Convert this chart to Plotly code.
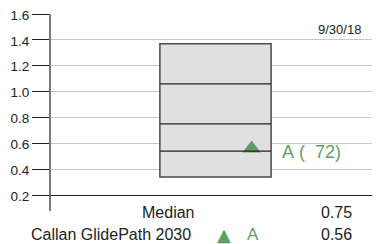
import plotly.graph_objects as go

# ---- data ----
percentile_labels = ["10th", "25th", "Median", "75th", "90th"]
percentile_values = [1.37, 1.06, 0.75, 0.54, 0.34]
series_names = ["Callan GlidePath 2030"]
series_letters = ["A"]
series_values = [0.56]
series_ranks = [72]
date_label = "9/30/18"
y_ticks = [0.2, 0.4, 0.6, 0.8, 1.0, 1.2, 1.4, 1.6]

# ---- style ----
GREEN = "#5f9e62"
FONT = "Liberation Sans, Arial, sans-serif"
box_center = 0.5015
box_width = 0.337
marker_x = 0.611
PAGE_OFFSET = 8  # default body margin of the html page

fig = go.Figure()

top, bottom = max(percentile_values), min(percentile_values)
fig.add_trace(go.Bar(
    x=[box_center], y=[top - bottom], base=[bottom], width=[box_width],
    marker=dict(color="#e0e0e0", line=dict(color="#4a4a4a", width=1.5)),
    hoverinfo="skip", showlegend=False,
))

for v in percentile_values[1:-1]:
    fig.add_shape(type="line", xref="x", yref="y",
                  x0=box_center - box_width / 2, x1=box_center + box_width / 2,
                  y0=v, y1=v, line=dict(color="#222222", width=1.3))

fig.add_trace(go.Scatter(
    x=[marker_x] * len(series_values), y=series_values, mode="markers",
    marker=dict(symbol="triangle-up", size=16, color=GREEN),
    showlegend=False, hoverinfo="skip", cliponaxis=False,
))

for letter, val, rank in zip(series_letters, series_values, series_ranks):
    fig.add_annotation(x=0.697, xref="paper", y=val, yref="y", yshift=-4,
                       yanchor="middle",
                       text=f"{letter} ( {rank:3d})".replace(" ", "&nbsp;"),
                       showarrow=False, xanchor="left",
                       font=dict(family=FONT, size=18, color=GREEN))

# extended vertical axis line
fig.add_shape(type="line", xref="paper", yref="paper", x0=0, x1=0,
              y0=-0.088, y1=1, line=dict(color="#222222", width=1.2))

fig.add_annotation(x=0.948, xref="paper", y=0.917, yref="paper", text=date_label,
                   showarrow=False, xanchor="right", yanchor="middle",
                   font=dict(family=FONT, size=13, color="#222222"))

median_val = percentile_values[percentile_labels.index("Median")]
rows_y = [-0.094, -0.2155]
fig.add_annotation(x=0.442, xref="paper", y=rows_y[0], yref="paper", text="Median",
                   showarrow=False, xanchor="right", yanchor="middle",
                   font=dict(family=FONT, size=16, color="#222222"))
fig.add_annotation(x=0.815, xref="paper", y=rows_y[0], yref="paper",
                   text=f"{median_val:.2f}", showarrow=False, xanchor="left",
                   yanchor="middle",
                   font=dict(family=FONT, size=16, color="#222222"))
for i, (name, letter, val) in enumerate(zip(series_names, series_letters, series_values)):
    yy = rows_y[1 + i]
    fig.add_annotation(x=0.433, xref="paper", y=yy, yref="paper", text=name,
                       showarrow=False, xanchor="right", yanchor="middle",
                       font=dict(family=FONT, size=16, color="#222222"))
    fig.add_annotation(x=0.527, xref="paper", y=yy, yref="paper", text="▲",
                       showarrow=False, xanchor="center", yanchor="middle",
                       font=dict(family="DejaVu Sans", size=18, color=GREEN))
    fig.add_annotation(x=0.591, xref="paper", y=yy, yref="paper", text=letter,
                       showarrow=False, xanchor="left", yanchor="middle",
                       font=dict(family=FONT, size=17, color=GREEN))
    fig.add_annotation(x=0.815, xref="paper", y=yy, yref="paper", text=f"{val:.2f}",
                       showarrow=False, xanchor="left", yanchor="middle",
                       font=dict(family=FONT, size=16, color="#222222"))

fig.update_layout(
    width=380 - PAGE_OFFSET, height=244 - PAGE_OFFSET,
    margin=dict(l=50 - PAGE_OFFSET, r=0, t=14 - PAGE_OFFSET, b=49, pad=0),
    plot_bgcolor="white", paper_bgcolor="white",
    showlegend=False,
    xaxis=dict(range=[0, 1], showgrid=False, zeroline=False, showticklabels=False,
               ticks="", showline=True, linecolor="#222222", linewidth=1.2,
               automargin=False),
    yaxis=dict(range=[0.2, 1.6], tickvals=y_ticks,
               ticktext=[f"{t:.1f}" for t in y_ticks],
               showgrid=True, gridcolor="#c8c8c8", gridwidth=1, zeroline=False,
               ticks="outside", ticklen=17, tickcolor="#222222", tickwidth=1.2,
               showline=False, automargin=False, ticklabeloverflow="allow",
               ticklabelshift=1,
               tickfont=dict(family=FONT, size=13.5, color="#222222")),
)

fig.write_html("out.html")
